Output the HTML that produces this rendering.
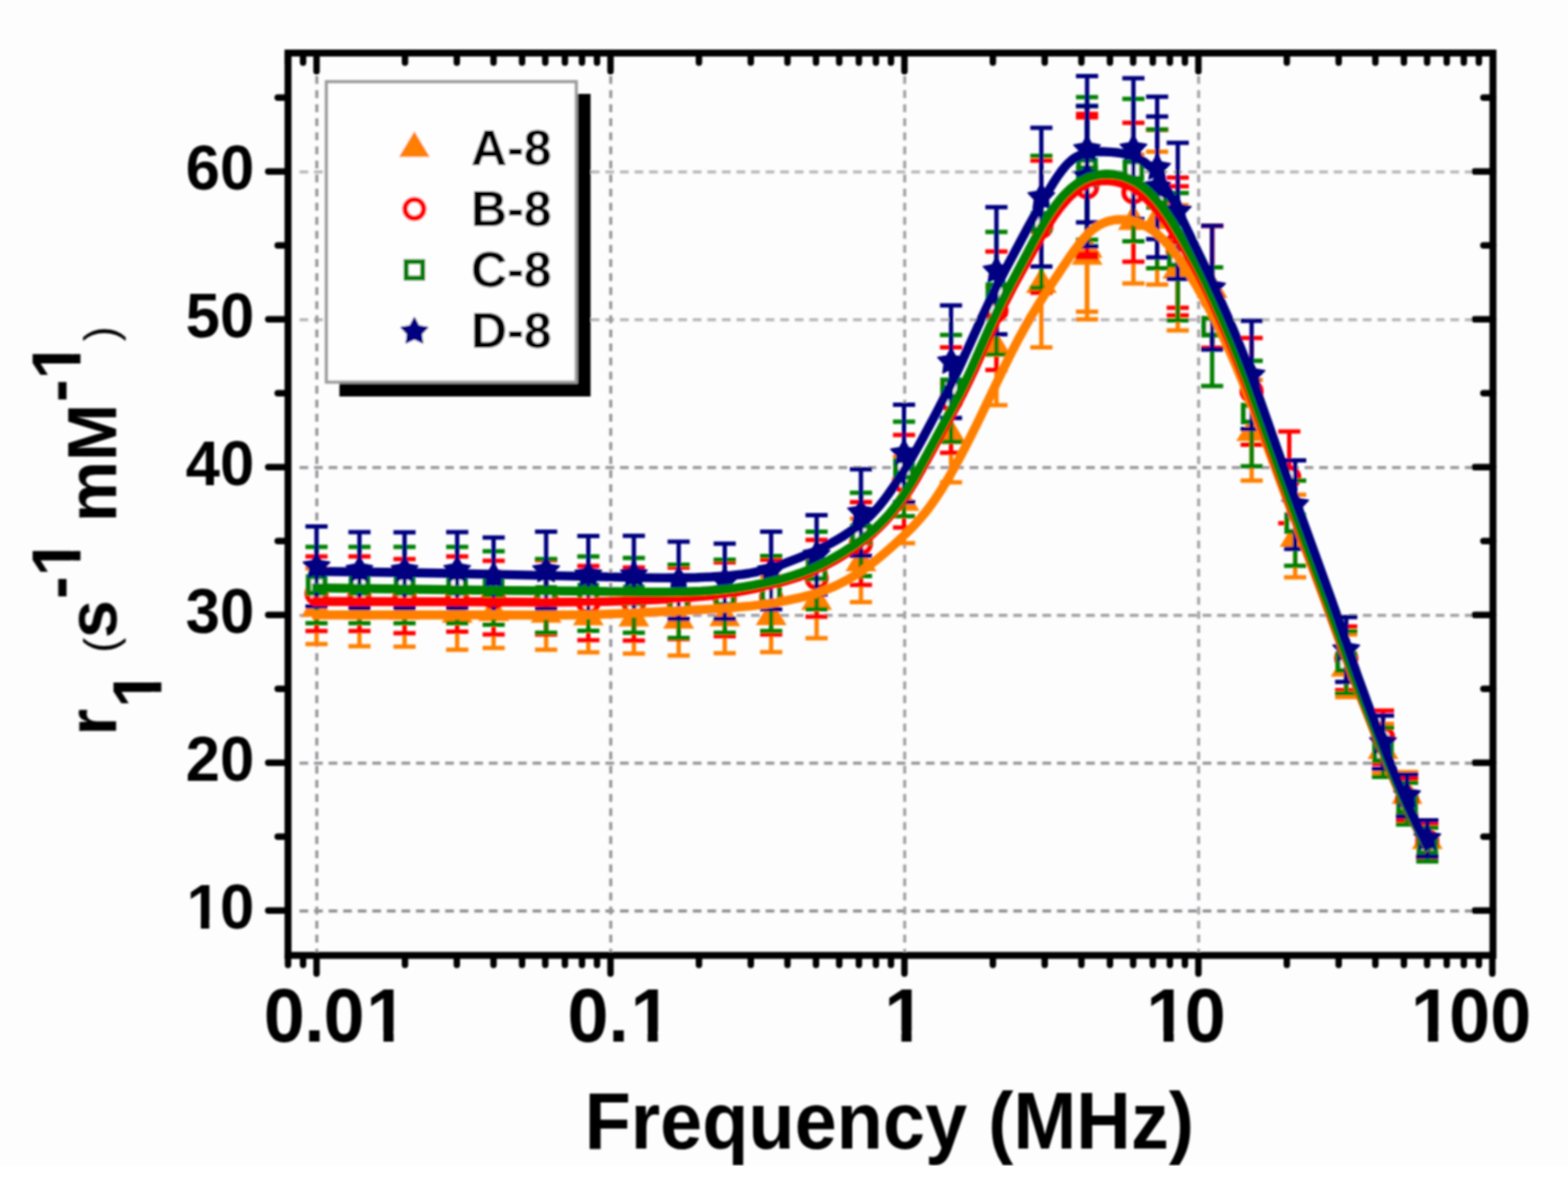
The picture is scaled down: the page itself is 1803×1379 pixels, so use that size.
<!DOCTYPE html>
<html lang="en">
<head>
<meta charset="utf-8">
<title>r1 relaxivity vs frequency</title>
<style>
html,body{margin:0;padding:0;background:#fff;}
body{width:1803px;height:1379px;overflow:hidden;}
svg{display:block;}
</style>
</head>
<body>
<svg width="1803" height="1379" viewBox="0 0 1803 1379" role="img" aria-label="NMRD profiles: r1 relaxivity versus frequency for samples A-8, B-8, C-8 and D-8" font-family="'Liberation Sans', Arial, Helvetica, sans-serif" font-weight="bold">
<defs><filter id="bl" x="-2%" y="-2%" width="104%" height="104%"><feGaussianBlur stdDeviation="1.1"/></filter><clipPath id="cut"><rect x="0" y="0" width="1803" height="1340.5"/></clipPath><clipPath id="k1"><path clip-rule="evenodd" d="M-149.6,-85.0h220.4v120.4h-220.4zM-76.49,-9.56h15.12v13.45h-15.12zM-51.68,-9.56h14.48v13.45h-14.48z"/></clipPath><clipPath id="k2"><path clip-rule="evenodd" d="M-85.0,-102.0h335.4v144.5h-335.4zM119.47,-11.48h18.15v16.15h-18.15zM149.26,-11.48h17.38v16.15h-17.38z"/></clipPath><clipPath id="k3"><path clip-rule="evenodd" d="M-85.0,-102.0h288.2v144.5h-288.2zM73.99,-11.48h18.15v16.15h-18.15zM103.78,-11.48h17.38v16.15h-17.38z"/></clipPath><clipPath id="k4"><path clip-rule="evenodd" d="M-85.0,-102.0h217.3v144.5h-217.3zM1.70,-11.48h18.15v16.15h-18.15zM31.49,-11.48h17.38v16.15h-17.38z"/></clipPath><clipPath id="k5"><path clip-rule="evenodd" d="M-85.0,-102.0h264.6v144.5h-264.6zM4.70,-11.48h18.15v16.15h-18.15zM34.49,-11.48h17.38v16.15h-17.38z"/></clipPath><clipPath id="k6"><path clip-rule="evenodd" d="M-85.0,-102.0h311.8v144.5h-311.8zM4.90,-11.48h18.15v16.15h-18.15zM34.69,-11.48h17.38v16.15h-17.38z"/></clipPath><clipPath id="k7"><path clip-rule="evenodd" d="M-79.0,-94.8h201.9v134.3h-201.9zM3.95,-10.67h16.87v15.01h-16.87zM31.64,-10.67h16.16v15.01h-16.16z"/></clipPath><clipPath id="k8"><path clip-rule="evenodd" d="M-79.0,-94.8h228.2v134.3h-228.2zM27.57,-10.67h16.87v15.01h-16.87zM55.26,-10.67h16.16v15.01h-16.16z"/></clipPath><clipPath id="k9"><path clip-rule="evenodd" d="M-79.0,-94.8h228.2v134.3h-228.2zM27.57,-10.67h16.87v15.01h-16.87zM55.26,-10.67h16.16v15.01h-16.16z"/></clipPath></defs>
<rect width="1803" height="1379" fill="#ffffff"/>
<rect width="1803" height="1340.5" fill="#fdfdfd"/>
<g filter="url(#bl)" clip-path="url(#cut)">
<g fill="none" stroke-width="3.5">
<path d="M344.4,1047.7H1712.7" stroke="#8e8e92" stroke-dasharray="10 6.75"/>
<path d="M344.4,877.7H1712.7" stroke="#96969a" stroke-dasharray="10 6.75"/>
<path d="M344.4,707.7H1712.7" stroke="#a0a0a4" stroke-dasharray="10 6.75"/>
<path d="M344.4,537.7H1712.7" stroke="#98989c" stroke-dasharray="10 6.75"/>
<path d="M344.4,367.7H1712.7" stroke="#b6b6b9" stroke-dasharray="10 6.75"/>
<path d="M344.4,197.7H1712.7" stroke="#b8b8bb" stroke-dasharray="10 6.75"/>
<path d="M364.3,87.5V1094.8" stroke="#96969a" stroke-dasharray="9 7.19"/>
<path d="M702.3,87.5V1094.8" stroke="#96969a" stroke-dasharray="9 7.19"/>
<path d="M1040.3,87.5V1094.8" stroke="#a0a0a4" stroke-dasharray="9 7.19"/>
<path d="M1378.3,87.5V1094.8" stroke="#a4a4a8" stroke-dasharray="9 7.19"/>
</g>
<path d="M664.1,108.0H679.1V456.0H390.3V441.0H664.1Z" fill="#000"/>
<rect x="375.3" y="94.0" width="287.3" height="345.5" fill="#fefefe" stroke="#9c9c9f" stroke-width="3.7"/>
<g id="dataA">
<path d="M364.0,653.7V740.7M351.2,653.7h25.5M351.2,740.7h25.5" stroke="#ff8000" stroke-width="5.0" fill="none"/>
<path d="M413.3,656.3V743.3M400.6,656.3h25.5M400.6,743.3h25.5" stroke="#ff8000" stroke-width="5.0" fill="none"/>
<path d="M465.2,656.7V743.7M452.4,656.7h25.5M452.4,743.7h25.5" stroke="#ff8000" stroke-width="5.0" fill="none"/>
<path d="M525.7,660.3V747.3M513.0,660.3h25.5M513.0,747.3h25.5" stroke="#ff8000" stroke-width="5.0" fill="none"/>
<path d="M567.6,658.3V745.3M554.9,658.3h25.5M554.9,745.3h25.5" stroke="#ff8000" stroke-width="5.0" fill="none"/>
<path d="M628.0,660.3V747.3M615.2,660.3h25.5M615.2,747.3h25.5" stroke="#ff8000" stroke-width="5.0" fill="none"/>
<path d="M676.5,663.3V750.3M663.8,663.3h25.5M663.8,750.3h25.5" stroke="#ff8000" stroke-width="5.0" fill="none"/>
<path d="M728.9,664.7V751.7M716.1,664.7h25.5M716.1,751.7h25.5" stroke="#ff8000" stroke-width="5.0" fill="none"/>
<path d="M780.4,667.0V754.0M767.6,667.0h25.5M767.6,754.0h25.5" stroke="#ff8000" stroke-width="5.0" fill="none"/>
<path d="M833.4,664.3V751.3M820.6,664.3h25.5M820.6,751.3h25.5" stroke="#ff8000" stroke-width="5.0" fill="none"/>
<path d="M886.7,663.0V750.0M874.0,663.0h25.5M874.0,750.0h25.5" stroke="#ff8000" stroke-width="5.0" fill="none"/>
<path d="M939.0,644.0V734.0M926.2,644.0h25.5M926.2,734.0h25.5" stroke="#ff8000" stroke-width="5.0" fill="none"/>
<path d="M990.0,596.5V692.5M977.2,596.5h25.5M977.2,692.5h25.5" stroke="#ff8000" stroke-width="5.0" fill="none"/>
<path d="M1039.5,525.3V624.7M1026.8,525.3h25.5M1026.8,624.7h25.5" stroke="#ff8000" stroke-width="5.0" fill="none"/>
<path d="M1093.6,441.3V554.7M1080.8,441.3h25.5M1080.8,554.7h25.5" stroke="#ff8000" stroke-width="5.0" fill="none"/>
<path d="M1145.8,330.0V466.0M1133.0,330.0h25.5M1133.0,466.0h25.5" stroke="#ff8000" stroke-width="5.0" fill="none"/>
<path d="M1197.4,249.5V399.5M1184.7,249.5h25.5M1184.7,399.5h25.5" stroke="#ff8000" stroke-width="5.0" fill="none"/>
<path d="M1250.0,209.6V358.4M1237.2,209.6h25.5M1237.2,358.4h25.5" stroke="#ff8000" stroke-width="5.0" fill="none"/>
<path d="M1303.3,178.0V326.0M1290.5,178.0h25.5M1290.5,326.0h25.5" stroke="#ff8000" stroke-width="5.0" fill="none"/>
<path d="M1330.6,174.5V327.3M1317.8,174.5h25.5M1317.8,327.3h25.5" stroke="#ff8000" stroke-width="5.0" fill="none"/>
<path d="M1354.3,236.0V380.0M1341.5,236.0h25.5M1341.5,380.0h25.5" stroke="#ff8000" stroke-width="5.0" fill="none"/>
<path d="M1393.8,259.8V401.0M1381.0,259.8h25.5M1381.0,401.0h25.5" stroke="#ff8000" stroke-width="5.0" fill="none"/>
<path d="M1439.2,437.0V552.8M1426.5,437.0h25.5M1426.5,552.8h25.5" stroke="#ff8000" stroke-width="5.0" fill="none"/>
<path d="M1489.3,569.0V664.0M1476.5,569.0h25.5M1476.5,664.0h25.5" stroke="#ff8000" stroke-width="5.0" fill="none"/>
<path d="M1548.0,729.8V801.8M1535.2,729.8h25.5M1535.2,801.8h25.5" stroke="#ff8000" stroke-width="5.0" fill="none"/>
<path d="M1590.3,832.4V889.0M1577.5,832.4h25.5M1577.5,889.0h25.5" stroke="#ff8000" stroke-width="5.0" fill="none"/>
<path d="M1617.9,888.0V936.0M1605.2,888.0h25.5M1605.2,936.0h25.5" stroke="#ff8000" stroke-width="5.0" fill="none"/>
<path d="M1641.2,944.0V984.0M1628.5,944.0h25.5M1628.5,984.0h25.5" stroke="#ff8000" stroke-width="5.0" fill="none"/>
<path d="M1250.0,216.7V367.3M1237.2,216.7h25.5M1237.2,367.3h25.5" stroke="#ff8000" stroke-width="5.0" fill="none"/>
<polygon points="364.0,680.1 381.8,709.6 346.2,709.6" fill="#ff8000"/>
<polygon points="413.3,682.7 431.1,712.2 395.6,712.2" fill="#ff8000"/>
<polygon points="465.2,683.1 482.9,712.6 447.4,712.6" fill="#ff8000"/>
<polygon points="525.7,686.7 543.5,716.2 508.0,716.2" fill="#ff8000"/>
<polygon points="567.6,684.7 585.4,714.2 549.9,714.2" fill="#ff8000"/>
<polygon points="628.0,686.7 645.8,716.2 610.2,716.2" fill="#ff8000"/>
<polygon points="676.5,689.7 694.2,719.2 658.8,719.2" fill="#ff8000"/>
<polygon points="728.9,691.1 746.6,720.6 711.1,720.6" fill="#ff8000"/>
<polygon points="780.4,693.4 798.1,722.9 762.6,722.9" fill="#ff8000"/>
<polygon points="833.4,690.7 851.1,720.2 815.6,720.2" fill="#ff8000"/>
<polygon points="886.7,689.4 904.5,718.9 869.0,718.9" fill="#ff8000"/>
<polygon points="939.0,671.9 956.8,701.4 921.2,701.4" fill="#ff8000"/>
<polygon points="990.0,627.4 1007.8,656.9 972.2,656.9" fill="#ff8000"/>
<polygon points="1039.5,557.9 1057.2,587.4 1021.8,587.4" fill="#ff8000"/>
<polygon points="1093.6,480.9 1111.3,510.4 1075.8,510.4" fill="#ff8000"/>
<polygon points="1145.8,380.9 1163.5,410.4 1128.0,410.4" fill="#ff8000"/>
<polygon points="1197.4,307.4 1215.2,336.9 1179.7,336.9" fill="#ff8000"/>
<polygon points="1250.0,266.9 1267.8,296.4 1232.2,296.4" fill="#ff8000"/>
<polygon points="1303.3,234.9 1321.0,264.4 1285.5,264.4" fill="#ff8000"/>
<polygon points="1330.6,233.8 1348.3,263.3 1312.8,263.3" fill="#ff8000"/>
<polygon points="1354.3,290.9 1372.0,320.4 1336.5,320.4" fill="#ff8000"/>
<polygon points="1393.8,313.3 1411.5,342.8 1376.0,342.8" fill="#ff8000"/>
<polygon points="1439.2,477.8 1457.0,507.3 1421.5,507.3" fill="#ff8000"/>
<polygon points="1489.3,599.4 1507.0,628.9 1471.5,628.9" fill="#ff8000"/>
<polygon points="1548.0,748.7 1565.8,778.2 1530.2,778.2" fill="#ff8000"/>
<polygon points="1590.3,843.6 1608.0,873.1 1572.5,873.1" fill="#ff8000"/>
<polygon points="1617.9,894.9 1635.7,924.4 1600.2,924.4" fill="#ff8000"/>
<polygon points="1641.2,946.9 1659.0,976.4 1623.5,976.4" fill="#ff8000"/>
<polygon points="1250.0,274.9 1267.8,304.4 1232.2,304.4" fill="#ff8000"/>
</g>
<g id="dataB">
<path d="M364.0,639.9V725.8M351.2,639.9h25.5M351.2,725.8h25.5" stroke="#ff0000" stroke-width="5.0" fill="none"/>
<path d="M413.3,639.9V725.8M400.6,639.9h25.5M400.6,725.8h25.5" stroke="#ff0000" stroke-width="5.0" fill="none"/>
<path d="M465.2,642.9V728.2M452.4,642.9h25.5M452.4,728.2h25.5" stroke="#ff0000" stroke-width="5.0" fill="none"/>
<path d="M525.7,639.9V726.4M513.0,639.9h25.5M513.0,726.4h25.5" stroke="#ff0000" stroke-width="5.0" fill="none"/>
<path d="M567.6,644.9V729.8M554.9,644.9h25.5M554.9,729.8h25.5" stroke="#ff0000" stroke-width="5.0" fill="none"/>
<path d="M628.0,644.3V729.8M615.2,644.3h25.5M615.2,729.8h25.5" stroke="#ff0000" stroke-width="5.0" fill="none"/>
<path d="M676.5,650.9V736.2M663.8,650.9h25.5M663.8,736.2h25.5" stroke="#ff0000" stroke-width="5.0" fill="none"/>
<path d="M728.9,652.8V736.7M716.1,652.8h25.5M716.1,736.7h25.5" stroke="#ff0000" stroke-width="5.0" fill="none"/>
<path d="M780.4,652.8V735.0M767.6,652.8h25.5M767.6,735.0h25.5" stroke="#ff0000" stroke-width="5.0" fill="none"/>
<path d="M833.4,646.8V731.7M820.6,646.8h25.5M820.6,731.7h25.5" stroke="#ff0000" stroke-width="5.0" fill="none"/>
<path d="M886.7,643.8V729.7M874.0,643.8h25.5M874.0,729.7h25.5" stroke="#ff0000" stroke-width="5.0" fill="none"/>
<path d="M939.0,620.9V709.3M926.2,620.9h25.5M926.2,709.3h25.5" stroke="#ff0000" stroke-width="5.0" fill="none"/>
<path d="M990.0,577.5V672.8M977.2,577.5h25.5M977.2,672.8h25.5" stroke="#ff0000" stroke-width="5.0" fill="none"/>
<path d="M1039.5,500.3V606.7M1026.8,500.3h25.5M1026.8,606.7h25.5" stroke="#ff0000" stroke-width="5.0" fill="none"/>
<path d="M1093.6,399.6V520.8M1080.8,399.6h25.5M1080.8,520.8h25.5" stroke="#ff0000" stroke-width="5.0" fill="none"/>
<path d="M1145.8,289.3V425.4M1133.0,289.3h25.5M1133.0,425.4h25.5" stroke="#ff0000" stroke-width="5.0" fill="none"/>
<path d="M1197.4,184.7V336.8M1184.7,184.7h25.5M1184.7,336.8h25.5" stroke="#ff0000" stroke-width="5.0" fill="none"/>
<path d="M1250.0,131.0V292.0M1237.2,131.0h25.5M1237.2,292.0h25.5" stroke="#ff0000" stroke-width="5.0" fill="none"/>
<path d="M1303.3,141.3V301.0M1290.5,141.3h25.5M1290.5,301.0h25.5" stroke="#ff0000" stroke-width="5.0" fill="none"/>
<path d="M1330.6,149.2V308.5M1317.8,149.2h25.5M1317.8,308.5h25.5" stroke="#ff0000" stroke-width="5.0" fill="none"/>
<path d="M1354.3,204.2V354.0M1341.5,204.2h25.5M1341.5,354.0h25.5" stroke="#ff0000" stroke-width="5.0" fill="none"/>
<path d="M1393.8,259.8V400.0M1381.0,259.8h25.5M1381.0,400.0h25.5" stroke="#ff0000" stroke-width="5.0" fill="none"/>
<path d="M1439.2,388.8V511.4M1426.5,388.8h25.5M1426.5,511.4h25.5" stroke="#ff0000" stroke-width="5.0" fill="none"/>
<path d="M1482.5,496.3V601.8M1469.8,496.3h25.5M1469.8,601.8h25.5" stroke="#ff0000" stroke-width="5.0" fill="none"/>
<path d="M1548.0,720.4V793.7M1535.2,720.4h25.5M1535.2,793.7h25.5" stroke="#ff0000" stroke-width="5.0" fill="none"/>
<path d="M1590.3,817.3V878.6M1577.5,817.3h25.5M1577.5,878.6h25.5" stroke="#ff0000" stroke-width="5.0" fill="none"/>
<path d="M1617.9,895.5V943.6M1605.2,895.5h25.5M1605.2,943.6h25.5" stroke="#ff0000" stroke-width="5.0" fill="none"/>
<path d="M1641.2,947.3V987.0M1628.5,947.3h25.5M1628.5,987.0h25.5" stroke="#ff0000" stroke-width="5.0" fill="none"/>
<path d="M1250.0,135.0V296.0M1237.2,135.0h25.5M1237.2,296.0h25.5" stroke="#ff0000" stroke-width="5.0" fill="none"/>
<path d="M1354.3,214.2V362.8M1341.5,214.2h25.5M1341.5,362.8h25.5" stroke="#ff0000" stroke-width="5.0" fill="none"/>
<circle cx="364.0" cy="682.8" r="10.8" fill="#fff" stroke="#ff0000" stroke-width="6.2"/>
<circle cx="413.3" cy="682.8" r="10.8" fill="#fff" stroke="#ff0000" stroke-width="6.2"/>
<circle cx="465.2" cy="685.5" r="10.8" fill="#fff" stroke="#ff0000" stroke-width="6.2"/>
<circle cx="525.7" cy="683.1" r="10.8" fill="#fff" stroke="#ff0000" stroke-width="6.2"/>
<circle cx="567.6" cy="687.3" r="10.8" fill="#fff" stroke="#ff0000" stroke-width="6.2"/>
<circle cx="628.0" cy="687.0" r="10.8" fill="#fff" stroke="#ff0000" stroke-width="6.2"/>
<circle cx="676.5" cy="693.5" r="10.8" fill="#fff" stroke="#ff0000" stroke-width="6.2"/>
<circle cx="728.9" cy="694.8" r="10.8" fill="#fff" stroke="#ff0000" stroke-width="6.2"/>
<circle cx="780.4" cy="693.9" r="10.8" fill="#fff" stroke="#ff0000" stroke-width="6.2"/>
<circle cx="833.4" cy="689.2" r="10.8" fill="#fff" stroke="#ff0000" stroke-width="6.2"/>
<circle cx="886.7" cy="686.8" r="10.8" fill="#fff" stroke="#ff0000" stroke-width="6.2"/>
<circle cx="939.0" cy="665.1" r="10.8" fill="#fff" stroke="#ff0000" stroke-width="6.2"/>
<circle cx="990.0" cy="625.1" r="10.8" fill="#fff" stroke="#ff0000" stroke-width="6.2"/>
<circle cx="1039.5" cy="553.5" r="10.8" fill="#fff" stroke="#ff0000" stroke-width="6.2"/>
<circle cx="1093.6" cy="460.2" r="10.8" fill="#fff" stroke="#ff0000" stroke-width="6.2"/>
<circle cx="1145.8" cy="357.4" r="10.8" fill="#fff" stroke="#ff0000" stroke-width="6.2"/>
<circle cx="1197.4" cy="260.8" r="10.8" fill="#fff" stroke="#ff0000" stroke-width="6.2"/>
<circle cx="1250.0" cy="211.5" r="10.8" fill="#fff" stroke="#ff0000" stroke-width="6.2"/>
<circle cx="1303.3" cy="221.2" r="10.8" fill="#fff" stroke="#ff0000" stroke-width="6.2"/>
<circle cx="1330.6" cy="228.8" r="10.8" fill="#fff" stroke="#ff0000" stroke-width="6.2"/>
<circle cx="1354.3" cy="279.1" r="10.8" fill="#fff" stroke="#ff0000" stroke-width="6.2"/>
<circle cx="1393.8" cy="344.0" r="10.8" fill="#fff" stroke="#ff0000" stroke-width="6.2"/>
<circle cx="1439.2" cy="450.1" r="10.8" fill="#fff" stroke="#ff0000" stroke-width="6.2"/>
<circle cx="1482.5" cy="549.0" r="10.8" fill="#fff" stroke="#ff0000" stroke-width="6.2"/>
<circle cx="1548.0" cy="757.0" r="10.8" fill="#fff" stroke="#ff0000" stroke-width="6.2"/>
<circle cx="1590.3" cy="848.0" r="10.8" fill="#fff" stroke="#ff0000" stroke-width="6.2"/>
<circle cx="1617.9" cy="919.5" r="10.8" fill="#fff" stroke="#ff0000" stroke-width="6.2"/>
<circle cx="1641.2" cy="967.1" r="10.8" fill="#fff" stroke="#ff0000" stroke-width="6.2"/>
<circle cx="1250.0" cy="215.5" r="10.8" fill="#fff" stroke="#ff0000" stroke-width="6.2"/>
<circle cx="1354.3" cy="288.5" r="10.8" fill="#fff" stroke="#ff0000" stroke-width="6.2"/>
</g>
<g id="dataC">
<path d="M364.0,628.9V716.8M351.2,628.9h25.5M351.2,716.8h25.5" stroke="#008000" stroke-width="5.0" fill="none"/>
<path d="M413.3,628.9V716.8M400.6,628.9h25.5M400.6,716.8h25.5" stroke="#008000" stroke-width="5.0" fill="none"/>
<path d="M465.2,628.9V716.8M452.4,628.9h25.5M452.4,716.8h25.5" stroke="#008000" stroke-width="5.0" fill="none"/>
<path d="M525.7,628.9V716.8M513.0,628.9h25.5M513.0,716.8h25.5" stroke="#008000" stroke-width="5.0" fill="none"/>
<path d="M567.6,633.9V718.4M554.9,633.9h25.5M554.9,718.4h25.5" stroke="#008000" stroke-width="5.0" fill="none"/>
<path d="M628.0,642.9V727.8M615.2,642.9h25.5M615.2,727.8h25.5" stroke="#008000" stroke-width="5.0" fill="none"/>
<path d="M676.5,639.9V725.4M663.8,639.9h25.5M663.8,725.4h25.5" stroke="#008000" stroke-width="5.0" fill="none"/>
<path d="M728.9,641.8V727.7M716.1,641.8h25.5M716.1,727.7h25.5" stroke="#008000" stroke-width="5.0" fill="none"/>
<path d="M780.4,649.4V733.7M767.6,649.4h25.5M767.6,733.7h25.5" stroke="#008000" stroke-width="5.0" fill="none"/>
<path d="M833.4,643.8V727.7M820.6,643.8h25.5M820.6,727.7h25.5" stroke="#008000" stroke-width="5.0" fill="none"/>
<path d="M886.7,639.4V725.7M874.0,639.4h25.5M874.0,725.7h25.5" stroke="#008000" stroke-width="5.0" fill="none"/>
<path d="M939.0,611.5V700.7M926.2,611.5h25.5M926.2,700.7h25.5" stroke="#008000" stroke-width="5.0" fill="none"/>
<path d="M990.0,566.7V662.5M977.2,566.7h25.5M977.2,662.5h25.5" stroke="#008000" stroke-width="5.0" fill="none"/>
<path d="M1039.5,485.0V593.7M1026.8,485.0h25.5M1026.8,593.7h25.5" stroke="#008000" stroke-width="5.0" fill="none"/>
<path d="M1093.6,385.2V508.0M1080.8,385.2h25.5M1080.8,508.0h25.5" stroke="#008000" stroke-width="5.0" fill="none"/>
<path d="M1145.8,266.7V407.5M1133.0,266.7h25.5M1133.0,407.5h25.5" stroke="#008000" stroke-width="5.0" fill="none"/>
<path d="M1197.4,179.2V331.0M1184.7,179.2h25.5M1184.7,331.0h25.5" stroke="#008000" stroke-width="5.0" fill="none"/>
<path d="M1250.0,111.7V275.8M1237.2,111.7h25.5M1237.2,275.8h25.5" stroke="#008000" stroke-width="5.0" fill="none"/>
<path d="M1303.3,113.7V277.5M1290.5,113.7h25.5M1290.5,277.5h25.5" stroke="#008000" stroke-width="5.0" fill="none"/>
<path d="M1330.6,149.0V308.5M1317.8,149.0h25.5M1317.8,308.5h25.5" stroke="#008000" stroke-width="5.0" fill="none"/>
<path d="M1354.3,222.0V368.4M1341.5,222.0h25.5M1341.5,368.4h25.5" stroke="#008000" stroke-width="5.0" fill="none"/>
<path d="M1393.8,307.5V444.0M1381.0,307.5h25.5M1381.0,444.0h25.5" stroke="#008000" stroke-width="5.0" fill="none"/>
<path d="M1439.2,415.0V536.2M1426.5,415.0h25.5M1426.5,536.2h25.5" stroke="#008000" stroke-width="5.0" fill="none"/>
<path d="M1489.3,552.8V650.8M1476.5,552.8h25.5M1476.5,650.8h25.5" stroke="#008000" stroke-width="5.0" fill="none"/>
<path d="M1548.0,725.9V797.5M1535.2,725.9h25.5M1535.2,797.5h25.5" stroke="#008000" stroke-width="5.0" fill="none"/>
<path d="M1590.3,837.0V893.6M1577.5,837.0h25.5M1577.5,893.6h25.5" stroke="#008000" stroke-width="5.0" fill="none"/>
<path d="M1617.9,900.2V948.3M1605.2,900.2h25.5M1605.2,948.3h25.5" stroke="#008000" stroke-width="5.0" fill="none"/>
<path d="M1641.2,952.0V990.7M1628.5,952.0h25.5M1628.5,990.7h25.5" stroke="#008000" stroke-width="5.0" fill="none"/>
<path d="M1250.0,122.0V283.0M1237.2,122.0h25.5M1237.2,283.0h25.5" stroke="#008000" stroke-width="5.0" fill="none"/>
<rect x="354.6" y="663.4" width="18.9" height="18.9" fill="#fff" stroke="#008000" stroke-width="5.9"/>
<rect x="403.9" y="663.4" width="18.9" height="18.9" fill="#fff" stroke="#008000" stroke-width="5.9"/>
<rect x="455.8" y="663.4" width="18.9" height="18.9" fill="#fff" stroke="#008000" stroke-width="5.9"/>
<rect x="516.2" y="663.4" width="18.9" height="18.9" fill="#fff" stroke="#008000" stroke-width="5.9"/>
<rect x="558.1" y="666.7" width="18.9" height="18.9" fill="#fff" stroke="#008000" stroke-width="5.9"/>
<rect x="618.5" y="675.9" width="18.9" height="18.9" fill="#fff" stroke="#008000" stroke-width="5.9"/>
<rect x="667.0" y="673.2" width="18.9" height="18.9" fill="#fff" stroke="#008000" stroke-width="5.9"/>
<rect x="719.4" y="675.3" width="18.9" height="18.9" fill="#fff" stroke="#008000" stroke-width="5.9"/>
<rect x="770.9" y="682.1" width="18.9" height="18.9" fill="#fff" stroke="#008000" stroke-width="5.9"/>
<rect x="823.9" y="676.3" width="18.9" height="18.9" fill="#fff" stroke="#008000" stroke-width="5.9"/>
<rect x="877.2" y="673.1" width="18.9" height="18.9" fill="#fff" stroke="#008000" stroke-width="5.9"/>
<rect x="929.5" y="646.6" width="18.9" height="18.9" fill="#fff" stroke="#008000" stroke-width="5.9"/>
<rect x="980.5" y="605.1" width="18.9" height="18.9" fill="#fff" stroke="#008000" stroke-width="5.9"/>
<rect x="1030.0" y="529.9" width="18.9" height="18.9" fill="#fff" stroke="#008000" stroke-width="5.9"/>
<rect x="1084.1" y="437.2" width="18.9" height="18.9" fill="#fff" stroke="#008000" stroke-width="5.9"/>
<rect x="1136.3" y="327.7" width="18.9" height="18.9" fill="#fff" stroke="#008000" stroke-width="5.9"/>
<rect x="1188.0" y="245.7" width="18.9" height="18.9" fill="#fff" stroke="#008000" stroke-width="5.9"/>
<rect x="1240.5" y="184.3" width="18.9" height="18.9" fill="#fff" stroke="#008000" stroke-width="5.9"/>
<rect x="1293.8" y="186.2" width="18.9" height="18.9" fill="#fff" stroke="#008000" stroke-width="5.9"/>
<rect x="1321.1" y="219.3" width="18.9" height="18.9" fill="#fff" stroke="#008000" stroke-width="5.9"/>
<rect x="1344.8" y="285.8" width="18.9" height="18.9" fill="#fff" stroke="#008000" stroke-width="5.9"/>
<rect x="1384.3" y="366.3" width="18.9" height="18.9" fill="#fff" stroke="#008000" stroke-width="5.9"/>
<rect x="1429.8" y="466.2" width="18.9" height="18.9" fill="#fff" stroke="#008000" stroke-width="5.9"/>
<rect x="1479.8" y="592.3" width="18.9" height="18.9" fill="#fff" stroke="#008000" stroke-width="5.9"/>
<rect x="1538.5" y="752.2" width="18.9" height="18.9" fill="#fff" stroke="#008000" stroke-width="5.9"/>
<rect x="1580.8" y="855.8" width="18.9" height="18.9" fill="#fff" stroke="#008000" stroke-width="5.9"/>
<rect x="1608.5" y="914.8" width="18.9" height="18.9" fill="#fff" stroke="#008000" stroke-width="5.9"/>
<rect x="1631.8" y="961.9" width="18.9" height="18.9" fill="#fff" stroke="#008000" stroke-width="5.9"/>
<rect x="1240.5" y="193.1" width="18.9" height="18.9" fill="#fff" stroke="#008000" stroke-width="5.9"/>
</g>
<g id="dataD">
<path d="M364.0,605.4V697.6M351.2,605.4h25.5M351.2,697.6h25.5" stroke="#000080" stroke-width="5.0" fill="none"/>
<path d="M413.3,612.0V699.3M400.6,612.0h25.5M400.6,699.3h25.5" stroke="#000080" stroke-width="5.0" fill="none"/>
<path d="M465.2,612.3V699.3M452.4,612.3h25.5M452.4,699.3h25.5" stroke="#000080" stroke-width="5.0" fill="none"/>
<path d="M525.7,612.0V699.3M513.0,612.0h25.5M513.0,699.3h25.5" stroke="#000080" stroke-width="5.0" fill="none"/>
<path d="M567.6,618.3V707.3M554.9,618.3h25.5M554.9,707.3h25.5" stroke="#000080" stroke-width="5.0" fill="none"/>
<path d="M628.0,611.5V700.5M615.2,611.5h25.5M615.2,700.5h25.5" stroke="#000080" stroke-width="5.0" fill="none"/>
<path d="M676.5,616.5V705.5M663.8,616.5h25.5M663.8,705.5h25.5" stroke="#000080" stroke-width="5.0" fill="none"/>
<path d="M728.9,616.3V705.3M716.1,616.3h25.5M716.1,705.3h25.5" stroke="#000080" stroke-width="5.0" fill="none"/>
<path d="M780.4,622.9V711.7M767.6,622.9h25.5M767.6,711.7h25.5" stroke="#000080" stroke-width="5.0" fill="none"/>
<path d="M833.4,625.3V711.7M820.6,625.3h25.5M820.6,711.7h25.5" stroke="#000080" stroke-width="5.0" fill="none"/>
<path d="M886.7,611.5V700.7M874.0,611.5h25.5M874.0,700.7h25.5" stroke="#000080" stroke-width="5.0" fill="none"/>
<path d="M939.0,592.5V683.8M926.2,592.5h25.5M926.2,683.8h25.5" stroke="#000080" stroke-width="5.0" fill="none"/>
<path d="M990.0,539.7V639.2M977.2,539.7h25.5M977.2,639.2h25.5" stroke="#000080" stroke-width="5.0" fill="none"/>
<path d="M1039.5,465.5V577.5M1026.8,465.5h25.5M1026.8,577.5h25.5" stroke="#000080" stroke-width="5.0" fill="none"/>
<path d="M1093.6,351.3V480.8M1080.8,351.3h25.5M1080.8,480.8h25.5" stroke="#000080" stroke-width="5.0" fill="none"/>
<path d="M1145.8,238.3V384.5M1133.0,238.3h25.5M1133.0,384.5h25.5" stroke="#000080" stroke-width="5.0" fill="none"/>
<path d="M1197.4,147.0V306.6M1184.7,147.0h25.5M1184.7,306.6h25.5" stroke="#000080" stroke-width="5.0" fill="none"/>
<path d="M1250.0,87.5V255.8M1237.2,87.5h25.5M1237.2,255.8h25.5" stroke="#000080" stroke-width="5.0" fill="none"/>
<path d="M1303.3,90.0V252.0M1290.5,90.0h25.5M1290.5,252.0h25.5" stroke="#000080" stroke-width="5.0" fill="none"/>
<path d="M1330.6,111.3V275.0M1317.8,111.3h25.5M1317.8,275.0h25.5" stroke="#000080" stroke-width="5.0" fill="none"/>
<path d="M1354.3,164.3V320.7M1341.5,164.3h25.5M1341.5,320.7h25.5" stroke="#000080" stroke-width="5.0" fill="none"/>
<path d="M1393.8,259.8V402.0M1381.0,259.8h25.5M1381.0,402.0h25.5" stroke="#000080" stroke-width="5.0" fill="none"/>
<path d="M1439.2,369.0V493.5M1426.5,369.0h25.5M1426.5,493.5h25.5" stroke="#000080" stroke-width="5.0" fill="none"/>
<path d="M1489.3,529.4V631.2M1476.5,529.4h25.5M1476.5,631.2h25.5" stroke="#000080" stroke-width="5.0" fill="none"/>
<path d="M1548.0,709.8V784.3M1535.2,709.8h25.5M1535.2,784.3h25.5" stroke="#000080" stroke-width="5.0" fill="none"/>
<path d="M1590.3,823.0V884.2M1577.5,823.0h25.5M1577.5,884.2h25.5" stroke="#000080" stroke-width="5.0" fill="none"/>
<path d="M1617.9,890.8V938.9M1605.2,890.8h25.5M1605.2,938.9h25.5" stroke="#000080" stroke-width="5.0" fill="none"/>
<path d="M1641.2,943.6V985.0M1628.5,943.6h25.5M1628.5,985.0h25.5" stroke="#000080" stroke-width="5.0" fill="none"/>
<path d="M1250.0,122.0V283.4M1237.2,122.0h25.5M1237.2,283.4h25.5" stroke="#000080" stroke-width="5.0" fill="none"/>
<path d="M1330.6,134.0V296.0M1317.8,134.0h25.5M1317.8,296.0h25.5" stroke="#000080" stroke-width="5.0" fill="none"/>
<polygon points="364.0,635.5 368.9,644.7 379.2,646.6 372.0,654.1 373.4,664.4 364.0,659.9 354.6,664.4 356.0,654.1 348.8,646.6 359.1,644.7" fill="#000080" stroke="#000080" stroke-width="1.6" stroke-linejoin="round"/>
<polygon points="413.3,639.6 418.2,648.9 428.5,650.7 421.3,658.2 422.7,668.6 413.3,664.0 403.9,668.6 405.3,658.2 398.1,650.7 408.4,648.9" fill="#000080" stroke="#000080" stroke-width="1.6" stroke-linejoin="round"/>
<polygon points="465.2,639.8 470.1,649.0 480.4,650.9 473.2,658.4 474.6,668.7 465.2,664.2 455.8,668.7 457.2,658.4 450.0,650.9 460.3,649.0" fill="#000080" stroke="#000080" stroke-width="1.6" stroke-linejoin="round"/>
<polygon points="525.7,639.6 530.6,648.9 540.9,650.7 533.7,658.2 535.1,668.6 525.7,664.0 516.3,668.6 517.7,658.2 510.5,650.7 520.8,648.9" fill="#000080" stroke="#000080" stroke-width="1.6" stroke-linejoin="round"/>
<polygon points="567.6,646.8 572.5,656.0 582.8,657.9 575.6,665.4 577.0,675.7 567.6,671.2 558.2,675.7 559.6,665.4 552.4,657.9 562.7,656.0" fill="#000080" stroke="#000080" stroke-width="1.6" stroke-linejoin="round"/>
<polygon points="628.0,640.0 632.9,649.2 643.2,651.1 636.0,658.6 637.4,668.9 628.0,664.4 618.6,668.9 620.0,658.6 612.8,651.1 623.1,649.2" fill="#000080" stroke="#000080" stroke-width="1.6" stroke-linejoin="round"/>
<polygon points="676.5,645.0 681.4,654.2 691.7,656.1 684.5,663.6 685.9,673.9 676.5,669.4 667.1,673.9 668.5,663.6 661.3,656.1 671.6,654.2" fill="#000080" stroke="#000080" stroke-width="1.6" stroke-linejoin="round"/>
<polygon points="728.9,644.8 733.8,654.0 744.1,655.9 736.9,663.4 738.3,673.7 728.9,669.2 719.5,673.7 720.9,663.4 713.7,655.9 724.0,654.0" fill="#000080" stroke="#000080" stroke-width="1.6" stroke-linejoin="round"/>
<polygon points="780.4,651.3 785.3,660.5 795.6,662.4 788.4,669.9 789.8,680.2 780.4,675.7 771.0,680.2 772.4,669.9 765.2,662.4 775.5,660.5" fill="#000080" stroke="#000080" stroke-width="1.6" stroke-linejoin="round"/>
<polygon points="833.4,652.5 838.3,661.7 848.6,663.6 841.4,671.1 842.8,681.4 833.4,676.9 824.0,681.4 825.4,671.1 818.2,663.6 828.5,661.7" fill="#000080" stroke="#000080" stroke-width="1.6" stroke-linejoin="round"/>
<polygon points="886.7,640.1 891.6,649.3 901.9,651.2 894.7,658.7 896.1,669.0 886.7,664.5 877.3,669.0 878.7,658.7 871.5,651.2 881.8,649.3" fill="#000080" stroke="#000080" stroke-width="1.6" stroke-linejoin="round"/>
<polygon points="939.0,622.1 943.9,631.4 954.2,633.2 947.0,640.7 948.4,651.1 939.0,646.5 929.6,651.1 931.0,640.7 923.8,633.2 934.1,631.4" fill="#000080" stroke="#000080" stroke-width="1.6" stroke-linejoin="round"/>
<polygon points="990.0,573.5 994.9,582.7 1005.2,584.5 998.0,592.0 999.4,602.4 990.0,597.9 980.6,602.4 982.0,592.0 974.8,584.5 985.1,582.7" fill="#000080" stroke="#000080" stroke-width="1.6" stroke-linejoin="round"/>
<polygon points="1039.5,505.5 1044.4,514.7 1054.7,516.6 1047.5,524.1 1048.9,534.4 1039.5,529.9 1030.1,534.4 1031.5,524.1 1024.3,516.6 1034.6,514.7" fill="#000080" stroke="#000080" stroke-width="1.6" stroke-linejoin="round"/>
<polygon points="1093.6,400.1 1098.5,409.3 1108.8,411.1 1101.6,418.6 1103.0,429.0 1093.6,424.4 1084.2,429.0 1085.6,418.6 1078.4,411.1 1088.7,409.3" fill="#000080" stroke="#000080" stroke-width="1.6" stroke-linejoin="round"/>
<polygon points="1145.8,295.4 1150.7,304.6 1161.0,306.5 1153.8,314.0 1155.2,324.3 1145.8,319.8 1136.4,324.3 1137.8,314.0 1130.6,306.5 1140.9,304.6" fill="#000080" stroke="#000080" stroke-width="1.6" stroke-linejoin="round"/>
<polygon points="1197.4,210.8 1202.3,220.0 1212.6,221.9 1205.4,229.4 1206.8,239.7 1197.4,235.2 1188.0,239.7 1189.4,229.4 1182.2,221.9 1192.5,220.0" fill="#000080" stroke="#000080" stroke-width="1.6" stroke-linejoin="round"/>
<polygon points="1250.0,155.7 1254.9,164.9 1265.2,166.7 1258.0,174.2 1259.4,184.6 1250.0,180.1 1240.6,184.6 1242.0,174.2 1234.8,166.7 1245.1,164.9" fill="#000080" stroke="#000080" stroke-width="1.6" stroke-linejoin="round"/>
<polygon points="1303.3,155.0 1308.2,164.2 1318.5,166.1 1311.3,173.6 1312.7,183.9 1303.3,179.4 1293.9,183.9 1295.3,173.6 1288.1,166.1 1298.4,164.2" fill="#000080" stroke="#000080" stroke-width="1.6" stroke-linejoin="round"/>
<polygon points="1330.6,177.2 1335.5,186.4 1345.8,188.2 1338.6,195.7 1340.0,206.1 1330.6,201.6 1321.2,206.1 1322.6,195.7 1315.4,188.2 1325.7,186.4" fill="#000080" stroke="#000080" stroke-width="1.6" stroke-linejoin="round"/>
<polygon points="1354.3,226.5 1359.2,235.7 1369.5,237.6 1362.3,245.1 1363.7,255.4 1354.3,250.9 1344.9,255.4 1346.3,245.1 1339.1,237.6 1349.4,235.7" fill="#000080" stroke="#000080" stroke-width="1.6" stroke-linejoin="round"/>
<polygon points="1393.8,314.9 1398.7,324.1 1409.0,326.0 1401.8,333.5 1403.2,343.8 1393.8,339.3 1384.4,343.8 1385.8,333.5 1378.6,326.0 1388.9,324.1" fill="#000080" stroke="#000080" stroke-width="1.6" stroke-linejoin="round"/>
<polygon points="1439.2,415.2 1444.1,424.5 1454.4,426.3 1447.2,433.8 1448.6,444.2 1439.2,439.6 1429.8,444.2 1431.2,433.8 1424.0,426.3 1434.3,424.5" fill="#000080" stroke="#000080" stroke-width="1.6" stroke-linejoin="round"/>
<polygon points="1489.3,564.3 1494.2,573.5 1504.5,575.4 1497.3,582.9 1498.7,593.2 1489.3,588.7 1479.9,593.2 1481.3,582.9 1474.1,575.4 1484.4,573.5" fill="#000080" stroke="#000080" stroke-width="1.6" stroke-linejoin="round"/>
<polygon points="1548.0,731.0 1552.9,740.3 1563.2,742.1 1556.0,749.6 1557.4,760.0 1548.0,755.4 1538.6,760.0 1540.0,749.6 1532.8,742.1 1543.1,740.3" fill="#000080" stroke="#000080" stroke-width="1.6" stroke-linejoin="round"/>
<polygon points="1590.3,837.6 1595.2,846.8 1605.5,848.7 1598.3,856.2 1599.7,866.5 1590.3,862.0 1580.9,866.5 1582.3,856.2 1575.1,848.7 1585.4,846.8" fill="#000080" stroke="#000080" stroke-width="1.6" stroke-linejoin="round"/>
<polygon points="1617.9,898.8 1622.8,908.1 1633.1,909.9 1625.9,917.4 1627.3,927.8 1617.9,923.2 1608.5,927.8 1609.9,917.4 1602.7,909.9 1613.0,908.1" fill="#000080" stroke="#000080" stroke-width="1.6" stroke-linejoin="round"/>
<polygon points="1641.2,948.3 1646.1,957.5 1656.4,959.4 1649.2,966.9 1650.6,977.2 1641.2,972.7 1631.8,977.2 1633.2,966.9 1626.0,959.4 1636.3,957.5" fill="#000080" stroke="#000080" stroke-width="1.6" stroke-linejoin="round"/>
<polygon points="1250.0,186.7 1254.9,195.9 1265.2,197.8 1258.0,205.3 1259.4,215.6 1250.0,211.1 1240.6,215.6 1242.0,205.3 1234.8,197.8 1245.1,195.9" fill="#000080" stroke="#000080" stroke-width="1.6" stroke-linejoin="round"/>
<polygon points="1330.6,199.0 1335.5,208.2 1345.8,210.1 1338.6,217.6 1340.0,227.9 1330.6,223.4 1321.2,227.9 1322.6,217.6 1315.4,210.1 1325.7,208.2" fill="#000080" stroke="#000080" stroke-width="1.6" stroke-linejoin="round"/>
</g>
<g stroke="#ff8000" stroke-width="10.4" fill="none" stroke-linejoin="round" stroke-linecap="square"><path id="fitA" d="M364.0,707.3L538.0,707.2L623.0,707.5L662.0,707.2L689.0,706.6L720.0,705.5L755.0,703.8L816.0,700.6L843.0,698.8L864.0,696.9L882.0,694.6L891.0,693.2L900.0,691.6L921.0,687.1L929.0,685.1L936.0,683.2L943.0,680.9L950.0,678.3L957.0,675.4L964.0,672.2L971.0,668.7L978.0,664.8L985.0,660.5L991.0,656.6L998.0,651.6L1005.0,646.2L1012.0,640.5L1020.0,633.7L1028.0,626.6L1037.0,618.2L1045.0,610.5L1052.0,603.3L1058.0,596.6L1063.0,590.7L1068.0,584.3L1073.0,577.4L1081.0,565.5L1089.0,552.5L1097.0,538.5L1106.0,521.8L1115.0,504.3L1125.0,484.2L1153.0,425.8L1160.0,411.5L1170.0,392.0L1180.0,373.8L1186.0,363.4L1193.0,351.9L1200.0,340.8L1209.0,327.0L1221.0,308.9L1230.0,295.6L1237.0,285.8L1243.0,278.0L1247.0,273.2L1250.0,270.0L1253.0,267.0L1256.0,264.4L1259.0,262.1L1262.0,260.1L1265.0,258.4L1269.0,256.4L1272.0,255.3L1276.0,254.1L1280.0,253.2L1284.0,252.7L1288.0,252.5L1292.0,252.6L1297.0,253.0L1301.0,253.7L1307.0,255.3L1313.0,257.7L1319.0,260.8L1325.0,264.7L1331.0,269.5L1337.0,275.0L1343.0,281.4L1349.0,288.6L1355.0,296.6L1362.0,306.7L1369.0,317.5L1376.0,329.1L1384.0,343.1L1391.0,356.1L1398.0,369.7L1405.0,384.1L1413.0,401.5L1422.0,422.3L1431.0,444.3L1441.0,469.8L1451.0,496.3L1488.0,596.1L1521.0,684.3L1550.0,763.7L1562.0,794.9L1584.0,850.6L1593.0,872.9L1600.0,889.7L1607.0,905.9L1613.0,919.2L1619.0,931.8L1625.0,943.8L1632.0,957.2L1641.0,973.9"/></g>
<g stroke="#ff0000" stroke-width="10.4" fill="none" stroke-linejoin="round" stroke-linecap="square"><path id="fitB" d="M364.0,691.8L526.0,692.1L623.0,692.6L664.0,692.4L696.0,691.9L727.0,690.9L757.0,689.5L787.0,687.5L813.0,685.3L825.0,684.0L836.0,682.5L847.0,680.9L858.0,678.9L869.0,676.7L879.0,674.5L890.0,671.8L900.0,669.1L910.0,666.1L919.0,663.2L927.0,660.2L935.0,656.9L943.0,653.3L951.0,649.3L959.0,644.9L967.0,640.2L974.0,635.9L981.0,631.4L987.0,627.1L993.0,622.6L999.0,617.7L1004.0,613.3L1010.0,607.6L1015.0,602.6L1021.0,596.2L1026.0,590.4L1031.0,584.3L1036.0,577.7L1041.0,570.7L1045.0,564.8L1053.0,551.9L1062.0,536.1L1092.0,481.1L1106.0,454.6L1114.0,438.5L1121.0,423.7L1140.0,380.8L1147.0,365.5L1155.0,349.0L1164.0,331.5L1178.0,306.0L1192.0,281.0L1199.0,268.9L1208.0,254.3L1213.0,246.9L1217.0,241.4L1221.0,236.3L1225.0,231.6L1229.0,227.3L1233.0,223.5L1237.0,220.1L1241.0,217.2L1245.0,214.6L1249.0,212.5L1253.0,210.8L1257.0,209.5L1261.0,208.6L1265.0,208.1L1269.0,207.8L1274.0,207.9L1279.0,208.4L1284.0,209.2L1288.0,210.3L1291.0,211.2L1297.0,213.6L1303.0,216.7L1309.0,220.6L1315.0,225.4L1320.0,230.0L1326.0,236.5L1332.0,243.7L1340.0,254.3L1349.0,267.1L1357.0,279.3L1365.0,292.2L1372.0,304.3L1379.0,317.3L1386.0,331.2L1393.0,345.8L1403.0,368.0L1413.0,391.3L1423.0,415.8L1433.0,441.6L1446.0,476.6L1483.0,578.6L1524.0,689.2L1550.0,761.4L1562.0,793.1L1582.0,844.4L1591.0,866.9L1599.0,886.4L1606.0,902.9L1613.0,918.7L1619.0,931.4L1625.0,943.5L1632.0,957.0L1641.0,973.9"/></g>
<g stroke="#008000" stroke-width="10.4" fill="none" stroke-linejoin="round" stroke-linecap="square"><path id="fitC" d="M364.0,676.2L446.0,677.2L551.0,678.8L659.0,679.8L738.0,681.0L758.0,681.0L776.0,680.9L792.0,680.5L806.0,680.0L817.0,679.3L827.0,678.5L837.0,677.5L846.0,676.4L856.0,674.9L866.0,673.2L876.0,671.2L885.0,669.3L894.0,667.1L903.0,664.7L912.0,662.0L920.0,659.3L927.0,656.7L934.0,653.9L941.0,650.7L948.0,647.3L955.0,643.6L963.0,639.0L971.0,634.2L978.0,629.7L985.0,624.9L991.0,620.5L997.0,615.8L1003.0,610.8L1008.0,606.3L1013.0,601.4L1018.0,596.2L1023.0,590.6L1028.0,584.5L1033.0,578.0L1038.0,570.9L1042.0,564.9L1049.0,553.6L1058.0,537.6L1090.0,478.5L1103.0,453.6L1110.0,439.4L1117.0,424.4L1137.0,378.9L1143.0,365.7L1151.0,349.0L1161.0,329.4L1189.0,276.8L1196.0,264.1L1201.0,255.5L1206.0,247.5L1211.0,240.1L1215.0,234.6L1219.0,229.5L1223.0,224.9L1227.0,220.8L1232.0,216.2L1236.0,213.0L1240.0,210.2L1244.0,207.8L1249.0,205.3L1253.0,203.7L1258.0,202.2L1262.0,201.3L1267.0,200.6L1272.0,200.3L1277.0,200.5L1282.0,201.0L1287.0,201.9L1291.0,202.9L1294.0,203.9L1300.0,206.3L1306.0,209.5L1312.0,213.4L1318.0,218.2L1324.0,223.9L1330.0,230.5L1335.0,236.7L1342.0,246.5L1349.0,257.2L1357.0,270.4L1365.0,284.3L1373.0,298.9L1380.0,312.4L1387.0,326.6L1395.0,343.7L1406.0,368.3L1416.0,391.9L1425.0,414.2L1434.0,437.7L1446.0,470.6L1483.0,574.3L1526.0,692.0L1550.0,759.4L1562.0,791.4L1580.0,837.9L1590.0,863.3L1598.0,883.1L1605.0,899.8L1612.0,915.7L1618.0,928.7L1624.0,941.0L1631.0,954.8L1641.0,973.7"/></g>
<g stroke="#000080" stroke-width="10.4" fill="none" stroke-linejoin="round" stroke-linecap="square"><path id="fitD" d="M364.0,657.2L445.0,658.2L508.0,659.3L738.0,664.4L762.0,664.6L783.0,664.5L801.0,664.2L818.0,663.5L838.0,662.2L854.0,660.5L861.0,659.5L868.0,658.2L875.0,656.7L881.0,655.2L888.0,653.1L896.0,650.4L919.0,641.5L936.0,634.5L942.0,631.7L949.0,628.2L956.0,624.5L964.0,619.9L971.0,615.7L978.0,611.1L984.0,606.9L990.0,602.4L995.0,598.3L1000.0,593.8L1004.0,589.8L1008.0,585.5L1012.0,580.8L1017.0,574.5L1022.0,567.7L1027.0,560.6L1037.0,545.4L1048.0,527.2L1059.0,507.7L1075.0,477.9L1091.0,447.2L1098.0,433.0L1105.0,418.2L1129.0,365.4L1138.0,346.1L1147.0,327.6L1156.0,310.1L1182.0,261.5L1198.0,232.7L1205.0,220.6L1211.0,210.7L1216.0,203.0L1221.0,196.1L1225.0,191.2L1228.0,188.0L1231.0,185.3L1234.0,182.9L1237.0,180.9L1241.0,178.8L1245.0,177.2L1249.0,176.1L1253.0,175.3L1258.0,174.7L1263.0,174.4L1269.0,174.5L1277.0,174.9L1284.0,175.5L1290.0,176.3L1296.0,177.6L1302.0,179.4L1308.0,181.9L1311.0,183.4L1314.0,185.3L1319.0,189.0L1324.0,193.6L1329.0,199.2L1334.0,205.8L1339.0,213.4L1343.0,220.2L1348.0,229.4L1353.0,239.2L1360.0,253.5L1391.0,318.2L1401.0,340.1L1411.0,362.7L1419.0,381.4L1427.0,401.0L1434.0,419.0L1441.0,437.9L1479.0,545.9L1530.0,686.9L1539.0,712.8L1553.0,754.2L1561.0,777.1L1572.0,807.4L1586.0,845.1L1601.0,883.9L1608.0,901.1L1614.0,915.3L1619.0,926.6L1625.0,939.5L1632.0,953.9L1641.0,971.9"/></g>
<polygon points="476.5,150.9 494.2,180.4 458.8,180.4" fill="#ff8000"/>
<circle cx="476.5" cy="240.3" r="10.8" fill="#fff" stroke="#ff0000" stroke-width="6.2"/>
<rect x="467.1" y="300.9" width="18.9" height="18.9" fill="#fff" stroke="#008000" stroke-width="5.9"/>
<polygon points="476.5,365.5 481.4,374.7 491.7,376.6 484.5,384.1 485.9,394.4 476.5,389.9 467.1,394.4 468.5,384.1 461.3,376.6 471.6,374.7" fill="#000080" stroke="#000080" stroke-width="1.6" stroke-linejoin="round"/>
<text x="541.6" y="189.9" font-size="57.6" fill="#000">A-8</text>
<text x="541.6" y="260.09999999999997" font-size="57.6" fill="#000">B-8</text>
<text x="541.6" y="330.09999999999997" font-size="57.6" fill="#000">C-8</text>
<text x="541.6" y="400.4" font-size="57.6" fill="#000">D-8</text>
<rect x="331.2" y="61.0" width="1385.5" height="1037.8" fill="none" stroke="#000" stroke-width="8.0" stroke-linejoin="miter"/>
<g stroke="#000" stroke-width="7.4" stroke-linecap="round" fill="none">
<path d="M331.2,1098.8v11.0"/>
<path d="M331.2,61.0v11.0"/>
<path d="M348.5,1098.8v11.0"/>
<path d="M348.5,61.0v11.0"/>
<path d="M364.0,1098.8v21.0"/>
<path d="M364.0,61.0v21.0"/>
<path d="M465.7,1098.8v11.0"/>
<path d="M465.7,61.0v11.0"/>
<path d="M525.3,1098.8v11.0"/>
<path d="M525.3,61.0v11.0"/>
<path d="M567.5,1098.8v11.0"/>
<path d="M567.5,61.0v11.0"/>
<path d="M600.3,1098.8v11.0"/>
<path d="M600.3,61.0v11.0"/>
<path d="M627.0,1098.8v11.0"/>
<path d="M627.0,61.0v11.0"/>
<path d="M649.6,1098.8v11.0"/>
<path d="M649.6,61.0v11.0"/>
<path d="M669.2,1098.8v11.0"/>
<path d="M669.2,61.0v11.0"/>
<path d="M686.5,1098.8v11.0"/>
<path d="M686.5,61.0v11.0"/>
<path d="M702.0,1098.8v21.0"/>
<path d="M702.0,61.0v21.0"/>
<path d="M803.7,1098.8v11.0"/>
<path d="M803.7,61.0v11.0"/>
<path d="M863.3,1098.8v11.0"/>
<path d="M863.3,61.0v11.0"/>
<path d="M905.5,1098.8v11.0"/>
<path d="M905.5,61.0v11.0"/>
<path d="M938.3,1098.8v11.0"/>
<path d="M938.3,61.0v11.0"/>
<path d="M965.0,1098.8v11.0"/>
<path d="M965.0,61.0v11.0"/>
<path d="M987.6,1098.8v11.0"/>
<path d="M987.6,61.0v11.0"/>
<path d="M1007.2,1098.8v11.0"/>
<path d="M1007.2,61.0v11.0"/>
<path d="M1024.5,1098.8v11.0"/>
<path d="M1024.5,61.0v11.0"/>
<path d="M1040.0,1098.8v21.0"/>
<path d="M1040.0,61.0v21.0"/>
<path d="M1141.7,1098.8v11.0"/>
<path d="M1141.7,61.0v11.0"/>
<path d="M1201.3,1098.8v11.0"/>
<path d="M1201.3,61.0v11.0"/>
<path d="M1243.5,1098.8v11.0"/>
<path d="M1243.5,61.0v11.0"/>
<path d="M1276.3,1098.8v11.0"/>
<path d="M1276.3,61.0v11.0"/>
<path d="M1303.0,1098.8v11.0"/>
<path d="M1303.0,61.0v11.0"/>
<path d="M1325.6,1098.8v11.0"/>
<path d="M1325.6,61.0v11.0"/>
<path d="M1345.2,1098.8v11.0"/>
<path d="M1345.2,61.0v11.0"/>
<path d="M1362.5,1098.8v11.0"/>
<path d="M1362.5,61.0v11.0"/>
<path d="M1378.0,1098.8v21.0"/>
<path d="M1378.0,61.0v21.0"/>
<path d="M1479.7,1098.8v11.0"/>
<path d="M1479.7,61.0v11.0"/>
<path d="M1539.3,1098.8v11.0"/>
<path d="M1539.3,61.0v11.0"/>
<path d="M1581.5,1098.8v11.0"/>
<path d="M1581.5,61.0v11.0"/>
<path d="M1614.3,1098.8v11.0"/>
<path d="M1614.3,61.0v11.0"/>
<path d="M1641.0,1098.8v11.0"/>
<path d="M1641.0,61.0v11.0"/>
<path d="M1663.6,1098.8v11.0"/>
<path d="M1663.6,61.0v11.0"/>
<path d="M1683.2,1098.8v11.0"/>
<path d="M1683.2,61.0v11.0"/>
<path d="M1700.5,1098.8v11.0"/>
<path d="M1700.5,61.0v11.0"/>
<path d="M1716.0,1098.8v21.0"/>
<path d="M331.2,1047.3h-22.8"/>
<path d="M1716.7,1047.3h-21.0"/>
<path d="M331.2,962.3h-11.9"/>
<path d="M1716.7,962.3h-11.0"/>
<path d="M331.2,877.3h-22.8"/>
<path d="M1716.7,877.3h-21.0"/>
<path d="M331.2,792.3h-11.9"/>
<path d="M1716.7,792.3h-11.0"/>
<path d="M331.2,707.3h-22.8"/>
<path d="M1716.7,707.3h-21.0"/>
<path d="M331.2,622.3h-11.9"/>
<path d="M1716.7,622.3h-11.0"/>
<path d="M331.2,537.3h-22.8"/>
<path d="M1716.7,537.3h-21.0"/>
<path d="M331.2,452.3h-11.9"/>
<path d="M1716.7,452.3h-11.0"/>
<path d="M331.2,367.3h-22.8"/>
<path d="M1716.7,367.3h-21.0"/>
<path d="M331.2,282.3h-11.9"/>
<path d="M1716.7,282.3h-11.0"/>
<path d="M331.2,197.3h-22.8"/>
<path d="M1716.7,197.3h-21.0"/>
<path d="M331.2,112.3h-11.9"/>
<path d="M1716.7,112.3h-11.0"/>
</g>
<text transform="translate(292.30,1068.20) scale(1,1.01)" x="-77.91 -39.38" font-size="70.8" clip-path="url(#k1)">10</text>
<text transform="translate(292.30,898.20) scale(1,1.01)" font-size="70.8" text-anchor="end">20</text>
<text transform="translate(292.30,728.20) scale(1,1.01)" font-size="70.8" text-anchor="end">30</text>
<text transform="translate(292.30,558.20) scale(1,1.01)" font-size="70.8" text-anchor="end">40</text>
<text transform="translate(292.30,388.20) scale(1,1.01)" font-size="70.8" text-anchor="end">50</text>
<text transform="translate(292.30,218.20) scale(1,1.01)" font-size="70.8" text-anchor="end">60</text>
<text transform="translate(303.30,1197.70) scale(1,1.02)" x="0.00 46.38 68.79 117.77" font-size="85.0" clip-path="url(#k2)">0.01</text>
<text transform="translate(652.60,1197.70) scale(1,1.02)" x="0.00 46.78 72.29" font-size="85.0" clip-path="url(#k3)">0.1</text>
<text transform="translate(1016.70,1197.70) scale(1,1.02)" x="0.00" font-size="85.0" clip-path="url(#k4)">1</text>
<text transform="translate(1315.10,1197.70) scale(1,1.02)" x="3.00 47.28" font-size="85.0" clip-path="url(#k5)">10</text>
<text transform="translate(1619.00,1197.70) scale(1,1.02)" x="3.20 47.28 94.55" font-size="85.0" clip-path="url(#k6)">100</text>
<text transform="translate(1022.5,1321.3) scale(1,1.07)" font-size="87" text-anchor="middle" fill="#000">Frequency (MHz)</text>
<g transform="translate(133.5,846) rotate(-90)" fill="#000" font-size="79">
<text x="0" y="0">r</text>
<text transform="translate(29.50,51.50)" x="2.37" font-size="79" clip-path="url(#k7)">1</text>
<text x="95.2" y="0" font-size="51.5" font-weight="normal">(</text>
<text x="112" y="0">s</text>
<text transform="translate(157.00,-41.00)" x="0.00 25.99" font-size="79" clip-path="url(#k8)">-1</text>
<text x="245.6" y="0">mM</text>
<text transform="translate(383.50,-41.00)" x="0.00 25.99" font-size="79" clip-path="url(#k9)">-1</text>
<text x="453.5" y="0" font-size="51.5" font-weight="normal">)</text>
</g>
</g>
</svg>
</body>
</html>
